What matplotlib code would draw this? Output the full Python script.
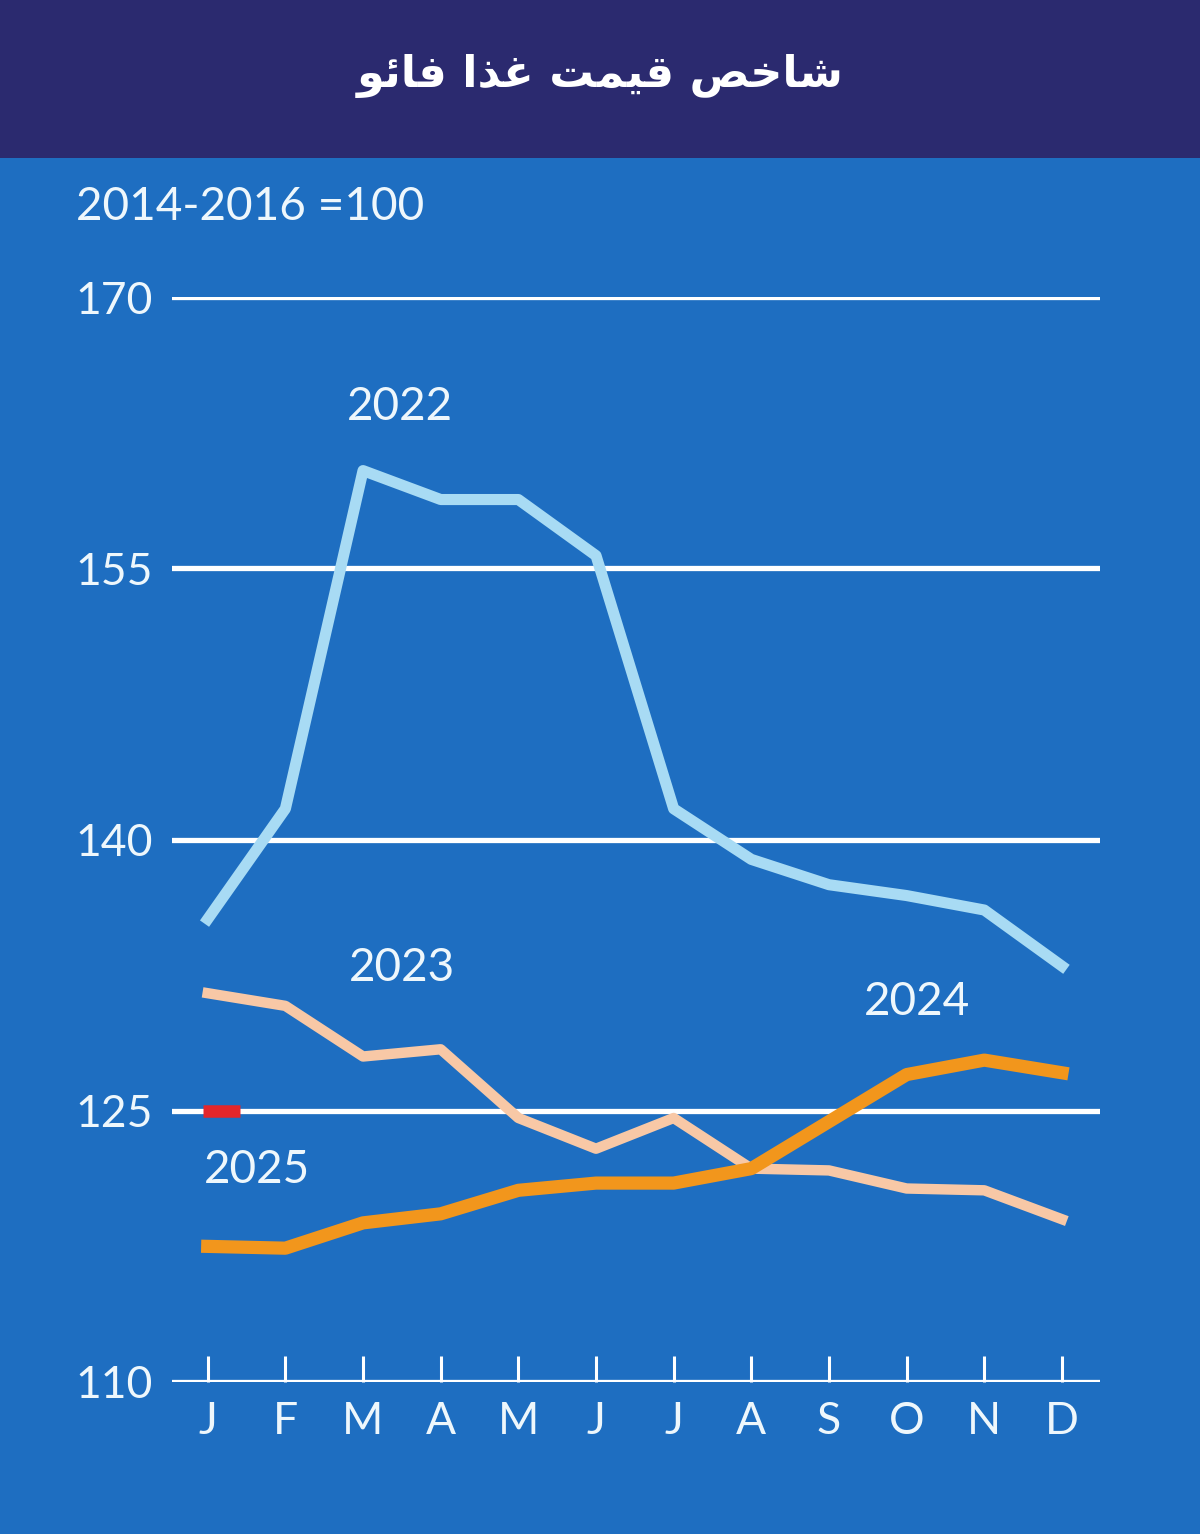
import matplotlib
matplotlib.use('Agg')
import matplotlib.pyplot as plt
from matplotlib.patches import Rectangle
from matplotlib.path import Path

# data (2014-2016 = 100)
months = ['J', 'F', 'M', 'A', 'M', 'J', 'J', 'A', 'S', 'O', 'N', 'D']
fpi_2022 = [135.6, 141.7, 160.4, 158.8, 158.8, 155.7, 141.7, 138.9, 137.5, 136.9, 136.1, 133.0]
fpi_2023 = [131.5, 130.8, 128.0, 128.4, 124.6, 122.9, 124.6, 121.8, 121.7, 120.7, 120.6, 119.0]
fpi_2024 = [117.5, 117.4, 118.8, 119.3, 120.6, 121.0, 121.0, 121.8, 124.4, 127.0, 127.8, 127.1]
fpi_2025 = [125.0]
y_ticks = [110, 125, 140, 155, 170]
title = 'شاخص قیمت غذا فائو'
base_note = '2014-2016 =100'

bg_blue = '#1e6ec1'
navy = '#2b2a6f'
txt = '#eef7fc'


# matplotlib has no Arabic shaping, so pick presentation forms by hand
# forms: (isolated, final, initial, medial)
FORMS = {
    'ا': ('\uFE8D', '\uFE8E', None, None),
    'ت': ('\uFE95', '\uFE96', '\uFE97', '\uFE98'),
    'خ': ('\uFEA5', '\uFEA6', '\uFEA7', '\uFEA8'),
    'ذ': ('\uFEAB', '\uFEAC', None, None),
    'ش': ('\uFEB5', '\uFEB6', '\uFEB7', '\uFEB8'),
    'ص': ('\uFEB9', '\uFEBA', '\uFEBB', '\uFEBC'),
    'غ': ('\uFECD', '\uFECE', '\uFECF', '\uFED0'),
    'ف': ('\uFED1', '\uFED2', '\uFED3', '\uFED4'),
    'ق': ('\uFED5', '\uFED6', '\uFED7', '\uFED8'),
    'م': ('\uFEE1', '\uFEE2', '\uFEE3', '\uFEE4'),
    'و': ('\uFEED', '\uFEEE', None, None),
    'ئ': ('\uFE89', '\uFE8A', '\uFE8B', '\uFE8C'),
    'ی': ('\uFBFC', '\uFBFD', '\uFBFE', '\uFBFF'),
}


def joins_left(ch):
    return ch in FORMS and FORMS[ch][2] is not None


def shape_rtl(s):
    out = []
    for i, ch in enumerate(s):
        if ch not in FORMS:
            out.append(ch)
            continue
        prev = s[i - 1] if i > 0 else ''
        nxt = s[i + 1] if i + 1 < len(s) else ''
        from_prev = joins_left(prev)
        to_next = joins_left(ch) and nxt in FORMS
        iso, fin, ini, med = FORMS[ch]
        if from_prev and to_next:
            out.append(med)
        elif from_prev:
            out.append(fin)
        elif to_next:
            out.append(ini)
        else:
            out.append(iso)
    return ''.join(reversed(out))


W, H = 1200, 1534
fig = plt.figure(figsize=(W / 100, H / 100), dpi=100)
fig.patch.set_facecolor(bg_blue)

# title banner
fig.patches.append(Rectangle((0, 1 - 158 / H), 1, 158 / H, transform=fig.transFigure,
                             facecolor=navy, edgecolor='none', zorder=0))
fig.text(0.5, 1 - 76 / H, shape_rtl(title), ha='center', va='center', color='white',
         fontsize=32, fontweight='bold', family='DejaVu Sans')

ax = fig.add_axes([172 / W, (H - 1382) / H, 928 / W, (1382 - 297) / H])
ax.set_facecolor('none')
for s in ax.spines.values():
    s.set_visible(False)

x = list(range(len(months)))
ax.set_xlim(-0.46, 11.49)
ax.set_ylim(110, 170)

for v in y_ticks:
    ax.axhline(v, color='white', lw=3.8, zorder=1)

ax.plot(x, fpi_2022, color='#a8dbf4', lw=8, solid_joinstyle='round', zorder=3)
ax.plot(x, fpi_2023, color='#f8c8a6', lw=7.5, solid_joinstyle='round', zorder=3)
ax.plot(x, fpi_2024, color='#f2961c', lw=9.5, solid_joinstyle='round', zorder=4)
# short dash that starts at the January point and runs right
dash = Path([(-0.16, 0), (1, 0)], [Path.MOVETO, Path.LINETO])
ax.plot(x[:len(fpi_2025)], fpi_2025, marker=dash, ms=46, mew=9, color='#e3262b',
        ls='none', zorder=5)

font = 'Lato'
ax.set_xticks(x)
ax.set_xticklabels(months)
ax.set_yticks(y_ticks)
ax.set_yticklabels([str(v) for v in y_ticks])
ax.tick_params(axis='x', direction='in', length=19, width=2.2, color='white',
               pad=14, labelsize=32, labelcolor=txt)
ax.tick_params(axis='y', length=0, pad=14, labelsize=32, labelcolor=txt)
for lab in ax.get_xticklabels() + ax.get_yticklabels():
    lab.set_family(font)

fig.text(76 / W, 1 - 207 / H, base_note, ha='left', va='center', color=txt,
         fontsize=33, family=font)

labels = {'2022': (2.47, 163.9), '2023': (2.5, 132.9), '2024': (9.13, 131.0), '2025': (0.63, 121.7)}
for name, (lx, ly) in labels.items():
    ax.text(lx, ly, name, ha='center', va='center', color=txt, fontsize=33,
            family=font, zorder=6)

fig.savefig('out.png', dpi=100, facecolor=fig.get_facecolor())
